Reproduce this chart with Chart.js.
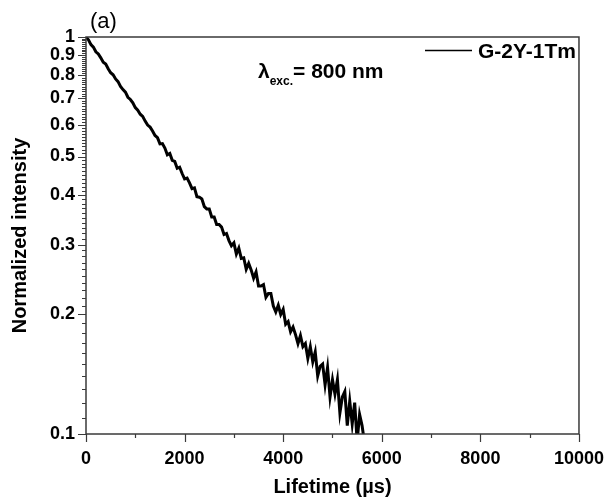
<!DOCTYPE html>
<html>
<head>
<meta charset="utf-8">
<script src="https://cdn.jsdelivr.net/npm/chart.js@4.4.0/dist/chart.umd.min.js"></script>
<style>
  html, body { margin: 0; padding: 0; background: #fff; }
  #wrap { width: 610px; height: 499px; position: relative; }
</style>
</head>
<body>
<div id="wrap"><canvas id="chartDecay"></canvas></div>
<script>
// decay curve, one point every 50 µs
const lifetimeUs = [0, 50, 100, 150, 200, 250, 300, 350, 400, 450, 500, 550, 600, 650, 700, 750, 800, 850, 900, 950,
  1000, 1050, 1100, 1150, 1200, 1250, 1300, 1350, 1400, 1450, 1500, 1550, 1600, 1650, 1700, 1750, 1800, 1850, 1900, 1950,
  2000, 2050, 2100, 2150, 2200, 2250, 2300, 2350, 2400, 2450, 2500, 2550, 2600, 2650, 2700, 2750, 2800, 2850, 2900, 2950,
  3000, 3050, 3100, 3150, 3200, 3250, 3300, 3350, 3400, 3450, 3500, 3550, 3600, 3650, 3700, 3750, 3800, 3850, 3900, 3950,
  4000, 4050, 4100, 4150, 4200, 4250, 4300, 4350, 4400, 4450, 4500, 4550, 4600, 4650, 4700, 4750, 4800, 4850, 4900, 4950,
  5000, 5050, 5100, 5150, 5200, 5250, 5300, 5350, 5400, 5450, 5500, 5550, 5600, 5650];
const normIntensity = [1.000, 0.984, 0.957, 0.943, 0.918, 0.906, 0.886, 0.864, 0.855, 0.832,
  0.813, 0.803, 0.784, 0.772, 0.751, 0.737, 0.726, 0.705, 0.696, 0.683,
  0.664, 0.654, 0.639, 0.631, 0.614, 0.600, 0.593, 0.580, 0.565, 0.558,
  0.538, 0.539, 0.525, 0.505, 0.509, 0.489, 0.486, 0.467, 0.470, 0.453,
  0.439, 0.441, 0.429, 0.415, 0.417, 0.396, 0.395, 0.391, 0.374, 0.369,
  0.369, 0.352, 0.352, 0.337, 0.337, 0.332, 0.318, 0.320, 0.307, 0.298,
  0.303, 0.284, 0.294, 0.277, 0.278, 0.260, 0.269, 0.259, 0.247, 0.256,
  0.236, 0.236, 0.238, 0.221, 0.226, 0.226, 0.210, 0.203, 0.211, 0.200,
  0.206, 0.189, 0.192, 0.181, 0.186, 0.178, 0.169, 0.177, 0.166, 0.169,
  0.155, 0.166, 0.152, 0.161, 0.140, 0.148, 0.150, 0.133, 0.147, 0.124,
  0.137, 0.126, 0.137, 0.113, 0.124, 0.128, 0.105, 0.121, 0.106, 0.120,
  0.096, 0.112, 0.105, 0.095];
const seriesName = "G-2Y-1Tm";
const xTickValues = [0, 2000, 4000, 6000, 8000, 10000];
const yTickValues = [0.1, 0.2, 0.3, 0.4, 0.5, 0.6, 0.7, 0.8, 0.9, 1];

const FONT = "Arial, 'Liberation Sans', sans-serif";

// frame, outward ticks, legend and labels drawn inside the plot
const framePlugin = {
  id: "frame",
  afterDraw(chart) {
    const { ctx, chartArea: a, scales: { x, y } } = chart;
    ctx.save();
    ctx.strokeStyle = "#3a3a3a";
    ctx.lineWidth = 1.5;
    ctx.strokeRect(a.left, a.top, a.right - a.left, a.bottom - a.top);

    ctx.lineWidth = 1.2;
    ctx.beginPath();
    for (let i = 10; i <= 100; i++) {
      const py = Math.round(y.getPixelForValue(i / 100)) + 0.5;
      const len = i % 10 === 0 ? 8 : 4;
      ctx.moveTo(a.left - len, py); ctx.lineTo(a.left, py);
    }
    for (let v = 0; v <= 10000; v += 1000) {
      const px = Math.round(x.getPixelForValue(v)) + 0.5;
      const len = v % 2000 === 0 ? 8 : 4;
      ctx.moveTo(px, a.bottom); ctx.lineTo(px, a.bottom + len);
    }
    ctx.stroke();

    // legend
    ctx.strokeStyle = "#000";
    ctx.lineWidth = 1.5;
    ctx.beginPath(); ctx.moveTo(425, 50.5); ctx.lineTo(472, 50.5); ctx.stroke();
    ctx.fillStyle = "#000";
    ctx.textBaseline = "alphabetic";
    ctx.font = "bold 21px " + FONT;
    ctx.fillText(seriesName, 478, 58);

    // excitation label
    let tx = 258;
    ctx.fillText("λ", tx, 78); tx += ctx.measureText("λ").width;
    ctx.font = "bold 12px " + FONT;
    ctx.fillText("exc.", tx, 85); tx += ctx.measureText("exc.").width;
    ctx.font = "bold 21px " + FONT;
    ctx.fillText("= 800 nm", tx, 78);

    // panel tag
    ctx.font = "22px " + FONT;
    ctx.fillText("(a)", 90, 28);
    ctx.restore();
  },
};

new Chart(document.getElementById("chartDecay"), {
  type: "line",
  data: {
    datasets: [{
      label: seriesName,
      data: lifetimeUs.map((t, i) => ({ x: t, y: normIntensity[i] })),
      borderColor: "#000",
      borderWidth: 3,
      pointRadius: 0,
      tension: 0,
      fill: false,
    }],
  },
  options: {
    responsive: true,
    maintainAspectRatio: false,
    animation: false,
    layout: { padding: { top: 37, right: 29, left: 0, bottom: 0 } },
    plugins: { legend: { display: false }, tooltip: { enabled: false } },
    scales: {
      x: {
        type: "linear", min: 0, max: 10000,
        afterFit: (s) => { s.height = 65; },
        afterBuildTicks: (s) => { s.ticks = xTickValues.map((v) => ({ value: v })); },
        grid: { drawOnChartArea: false, tickLength: 8, tickColor: "rgba(0,0,0,0)" },
        border: { display: false },
        ticks: { color: "#000", padding: 6, maxRotation: 0, autoSkip: false, font: { family: FONT, size: 18, weight: "bold" }, callback: (v) => String(v) },
        title: { display: true, text: "Lifetime (µs)", color: "#000", padding: { top: 0, bottom: 0 }, font: { family: FONT, size: 20, weight: "bold" } },
      },
      y: {
        type: "logarithmic", min: 0.1, max: 1,
        afterFit: (s) => { s.width = 86; },
        afterBuildTicks: (s) => { s.ticks = yTickValues.map((v) => ({ value: v })); },
        grid: { drawOnChartArea: false, tickLength: 8, tickColor: "rgba(0,0,0,0)" },
        border: { display: false },
        ticks: { color: "#000", padding: 3, autoSkip: false, font: { family: FONT, size: 18, weight: "bold" }, callback: (v) => String(v) },
        title: { display: true, text: "Normalized intensity", color: "#000", padding: { top: 8, bottom: 0 }, font: { family: FONT, size: 20, weight: "bold" } },
      },
    },
  },
  plugins: [framePlugin],
});
</script>
</body>
</html>
